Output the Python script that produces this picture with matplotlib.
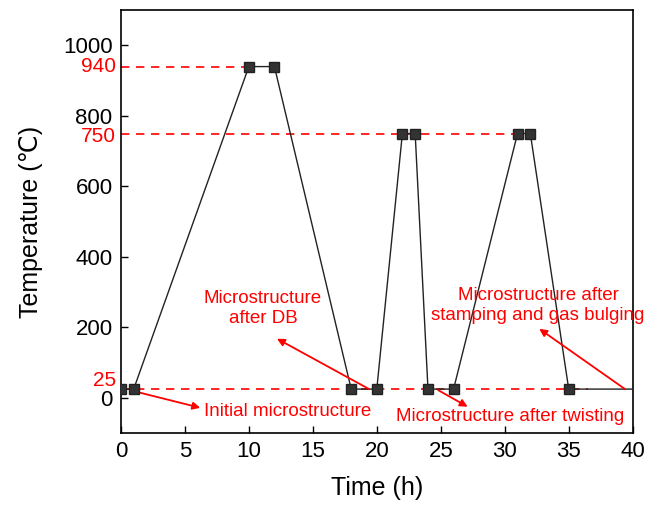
import matplotlib
matplotlib.use('Agg')
import matplotlib.pyplot as plt

plt.rcParams['font.family'] = ['Liberation Sans', 'DejaVu Sans']

# heating schedule (h, degC)
time = [0, 1, 10, 12, 18, 20, 22, 23, 24, 26, 31, 32, 35, 40]
temp = [25, 25, 940, 940, 25, 25, 750, 750, 25, 25, 750, 750, 25, 25]
n_marked = 13

ref_levels = [25, 750, 940]
ref_ends = [36.5, 31, 10]
# where the red level labels sit (nudged to clear neighbouring ticks)
ref_label_y = [50, 742, 940]

black_ticks = [0, 200, 400, 600, 800, 1000]
x_ticks = [0, 5, 10, 15, 20, 25, 30, 35, 40]

fig = plt.figure(figsize=(6.57, 5.09), dpi=100)
ax = fig.add_axes([0.184, 0.149, 0.779, 0.831])

for lvl, xe in zip(ref_levels, ref_ends):
    ax.plot([0, xe], [lvl, lvl], color='red', ls=(0, (5, 4)), lw=1.2, zorder=2)

ax.plot(time, temp, color='#222222', lw=1, zorder=3)
ax.plot(time[:n_marked], temp[:n_marked], ls='none', marker='s', ms=7,
        color='#333333', mec='#222222', zorder=4)

arrow = dict(arrowstyle='-|>', color='red', lw=1.3, mutation_scale=11,
             shrinkA=0, shrinkB=0)
fs = 13.5
ax.annotate('', xy=(6.2, -28), xytext=(0.7, 22), arrowprops=arrow)
ax.text(6.5, -38, 'Initial microstructure', color='red', fontsize=fs,
        ha='left', va='center')

ax.annotate('', xy=(12.2, 168), xytext=(19.4, 25), arrowprops=arrow)
ax.text(11.1, 253, 'Microstructure\nafter DB', color='red', fontsize=fs,
        ha='center', va='center', linespacing=1.2)

ax.annotate('', xy=(32.7, 196), xytext=(39.4, 25), arrowprops=arrow)
ax.text(32.6, 262, 'Microstructure after\nstamping and gas bulging', color='red',
        fontsize=fs, ha='center', va='center', linespacing=1.2)

ax.annotate('', xy=(27.1, -25), xytext=(24.8, 22), arrowprops=arrow)
ax.text(30.4, -52, 'Microstructure after twisting', color='red', fontsize=fs,
        ha='center', va='center')

ax.set_xlim(0, 40)
ax.set_ylim(-100, 1100)
ax.set_xticks(x_ticks)
ax.set_yticks(black_ticks)

for lvl, ly in zip(ref_levels, ref_label_y):
    ax.text(-0.01, ly, str(lvl), color='red', fontsize=15, ha='right',
            va='center', transform=ax.get_yaxis_transform())

ax.tick_params(direction='in', length=5, width=1, labelsize=16, pad=6)
for s in ax.spines.values():
    s.set_linewidth(1.2)

ax.set_xlabel('Time (h)', fontsize=18, labelpad=10)
ax.set_ylabel('Temperature (\u2103)', fontsize=18, labelpad=14)

fig.savefig('out.png', dpi=100)
